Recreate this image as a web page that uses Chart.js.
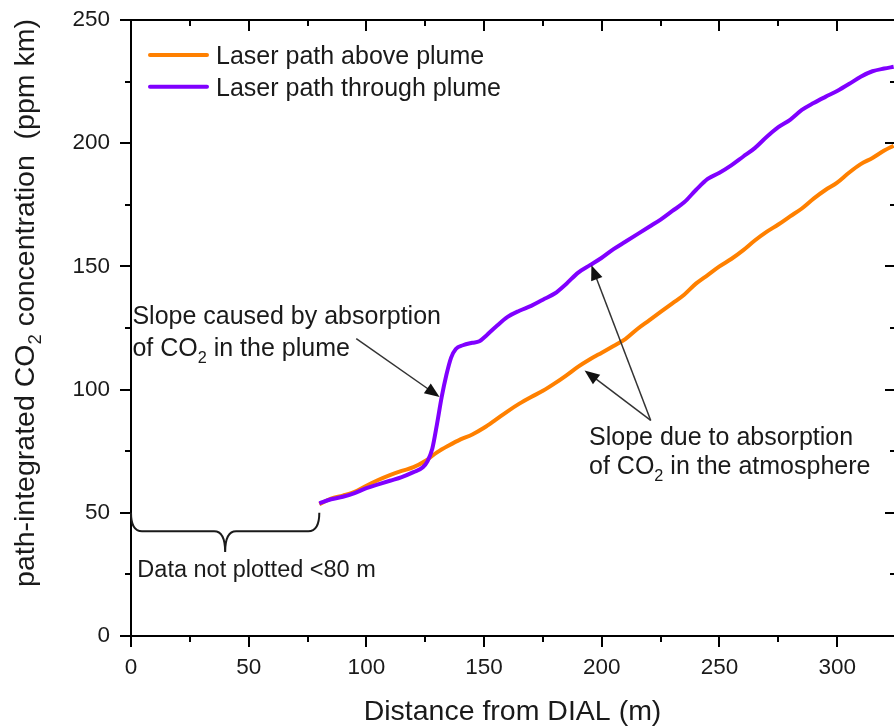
<!DOCTYPE html>
<html>
<head>
<meta charset="utf-8">
<script src="https://cdn.jsdelivr.net/npm/chart.js@4.4.1/dist/chart.umd.min.js"></script>
<style>
  html, body { margin: 0; padding: 0; background: #fff; overflow: hidden; }
  #wrap { width: 894px; height: 727px; overflow: hidden; }
</style>
</head>
<body>
<div id="wrap"><canvas id="myChart" width="898" height="727"></canvas></div>
<script>
// distance (m) and path-integrated CO2 (ppm km)
const aboveX = [80, 85, 90, 95, 100, 105, 110, 115, 120, 125, 130, 135, 140, 145, 150, 155, 160, 165, 170, 175,
  180, 185, 190, 195, 200, 205, 210, 215, 220, 225, 230, 235, 240, 245, 250, 255, 260, 265, 270, 275,
  280, 285, 290, 295, 300, 305, 310, 315, 320, 324];
const aboveY = [53.5, 55.8, 57, 58.5, 61, 63.3, 65.3, 67, 68.5, 71, 74.5, 77.3, 79.8, 81.8, 84.5, 87.8, 91.2, 94.3, 97, 99.5,
  102.5, 105.8, 109.3, 112.3, 115, 117.7, 120.5, 124.5, 128, 131.5, 135, 138.5, 143, 146.5, 150, 153, 156.5, 160.5, 164, 167,
  170.3, 173.5, 177.5, 181, 184, 188, 191.5, 194, 197, 199];

const throughX = [80, 85, 90, 95, 100, 105, 110, 115, 120, 124, 126, 128, 130, 132, 134, 136, 138, 141, 145, 148,
  151, 155, 160, 165, 170, 175, 180, 185, 190, 195, 200, 205, 210, 215, 220, 225, 230, 235, 240, 245,
  250, 255, 260, 265, 270, 275, 280, 285, 290, 295, 300, 305, 310, 315, 320, 324];
const throughY = [53.8, 55.5, 56.5, 58, 60, 61.5, 63, 64.5, 66.5, 68.5, 71, 76, 86, 97, 106, 113, 116.5, 118, 119, 119.6,
  122, 125.5, 129.5, 132, 134, 136.5, 139, 143, 147.5, 150.5, 153.5, 157, 160, 163, 166, 169, 172.5, 176, 181, 185.5,
  188, 191, 194.5, 198, 202.5, 206.5, 209.5, 213.5, 216.3, 218.8, 221.2, 224, 227, 229.2, 230.3, 231];

const seriesNames = ['Laser path above plume', 'Laser path through plume'];
const seriesColors = ['#ff8000', '#8000ff'];

const xTickLabels = [0, 50, 100, 150, 200, 250, 300];
const yTickLabels = [0, 50, 100, 150, 200, 250];

const FONT = "'Liberation Sans', Arial, sans-serif";

// annotation anchors in data units
const arrows = [
  { from: [95.7, 120.7], to: [131.1, 97.0] },
  { from: [220.8, 87.5], to: [195.6, 150.5] },
  { from: [220.8, 87.5], to: [192.7, 107.8] }
];
const notes = [
  { at: [0.6, 126.5], parts: [['Slope caused by absorption', 0]] },
  { at: [0.6, 113.5], parts: [['of CO', 0], ['2', 1], [' in the plume', 0]] },
  { at: [194.6, 77.4], parts: [['Slope due to absorption', 0]] },
  { at: [194.6, 65.8], parts: [['of CO', 0], ['2', 1], [' in the atmosphere', 0]] }
];
const brace = { x0: 0, x1: 80, yTop: 50, yBar: 42.5, yTip: 34.1 };
const braceNote = { at: [2.7, 23.8], text: 'Data not plotted <80 m' };

function partsWidth(ctx, parts, size) {
  let w = 0;
  parts.forEach(p => {
    ctx.font = (p[1] ? size * 0.65 : size) + 'px ' + FONT;
    w += ctx.measureText(p[0]).width;
  });
  return w;
}

function drawParts(ctx, parts, x, y, size) {
  ctx.textAlign = 'left';
  ctx.textBaseline = 'alphabetic';
  parts.forEach(p => {
    const s = p[1] ? size * 0.65 : size;
    ctx.font = s + 'px ' + FONT;
    ctx.fillText(p[0], x, p[1] ? y + size * 0.27 : y);
    x += ctx.measureText(p[0]).width;
  });
}

function arrowHead(ctx, x1, y1, x2, y2) {
  const a = Math.atan2(y2 - y1, x2 - x1);
  const len = 15, hw = 6;
  ctx.beginPath();
  ctx.moveTo(x2, y2);
  ctx.lineTo(x2 - len * Math.cos(a) + hw * Math.sin(a), y2 - len * Math.sin(a) - hw * Math.cos(a));
  ctx.lineTo(x2 - len * Math.cos(a) - hw * Math.sin(a), y2 - len * Math.sin(a) + hw * Math.cos(a));
  ctx.closePath();
  ctx.fill();
}

const decorations = {
  id: 'decorations',
  afterDraw(chart) {
    const ctx = chart.ctx;
    const xs = chart.scales.x, ys = chart.scales.y;
    const area = chart.chartArea;
    ctx.save();

    // top and right frame
    ctx.strokeStyle = '#000';
    ctx.lineWidth = 2;
    ctx.beginPath();
    ctx.moveTo(area.left - 1, area.top);
    ctx.lineTo(area.right, area.top);
    ctx.lineTo(area.right, area.bottom);
    ctx.stroke();

    // tick marks: outward on left/bottom, inward on top/right
    for (let v = 0; v <= 250; v += 25) {
      const py = Math.round(ys.getPixelForValue(v));
      const len = v % 50 === 0 ? 11 : 6;
      ctx.beginPath();
      ctx.moveTo(area.left, py); ctx.lineTo(area.left - len, py);
      ctx.moveTo(area.right, py); ctx.lineTo(area.right - len, py);
      ctx.stroke();
    }
    for (let v = 0; v <= 325; v += 25) {
      const px = Math.round(xs.getPixelForValue(v));
      const len = v % 50 === 0 ? 11 : 6;
      ctx.beginPath();
      ctx.moveTo(px, area.bottom); ctx.lineTo(px, area.bottom + len);
      ctx.moveTo(px, area.top); ctx.lineTo(px, area.top + len);
      ctx.stroke();
    }

    ctx.fillStyle = '#1a1a1a';

    // legend
    seriesNames.forEach((name, i) => {
      const y = 55 + i * 31.7;
      ctx.strokeStyle = seriesColors[i];
      ctx.lineWidth = 4;
      ctx.lineCap = 'round';
      ctx.beginPath();
      ctx.moveTo(150, y); ctx.lineTo(207, y);
      ctx.stroke();
      ctx.font = '25px ' + FONT;
      ctx.textAlign = 'left';
      ctx.textBaseline = 'alphabetic';
      ctx.fillText(name, 216, y + 9);
    });
    ctx.lineCap = 'butt';

    // axis titles
    ctx.font = '28.5px ' + FONT;
    ctx.textAlign = 'center';
    ctx.textBaseline = 'alphabetic';
    ctx.fillText('Distance from DIAL (m)', (area.left + area.right) / 2 - 1, 720);

    const yTitle = [['path-integrated CO', 0], ['2', 1], [' concentration  (ppm km)', 0]];
    const tw = partsWidth(ctx, yTitle, 28.5);
    ctx.save();
    ctx.translate(33.5, 303);
    ctx.rotate(-Math.PI / 2);
    drawParts(ctx, yTitle, -tw / 2, 0, 28.5);
    ctx.restore();

    // annotation texts
    notes.forEach(n => {
      drawParts(ctx, n.parts, xs.getPixelForValue(n.at[0]), ys.getPixelForValue(n.at[1]), 25);
    });
    ctx.font = '23.5px ' + FONT;
    ctx.textAlign = 'left';
    ctx.fillText(braceNote.text, xs.getPixelForValue(braceNote.at[0]), ys.getPixelForValue(braceNote.at[1]));

    // arrows
    ctx.strokeStyle = '#333';
    ctx.fillStyle = '#111';
    ctx.lineWidth = 1.5;
    arrows.forEach(a => {
      const x1 = xs.getPixelForValue(a.from[0]), y1 = ys.getPixelForValue(a.from[1]);
      const x2 = xs.getPixelForValue(a.to[0]), y2 = ys.getPixelForValue(a.to[1]);
      const ang = Math.atan2(y2 - y1, x2 - x1);
      ctx.beginPath();
      ctx.moveTo(x1, y1);
      ctx.lineTo(x2 - 10 * Math.cos(ang), y2 - 10 * Math.sin(ang));
      ctx.stroke();
      arrowHead(ctx, x1, y1, x2, y2);
    });

    // curly brace under the unplotted range
    const bx0 = xs.getPixelForValue(brace.x0), bx1 = xs.getPixelForValue(brace.x1);
    const bxm = (bx0 + bx1) / 2;
    const bt = ys.getPixelForValue(brace.yTop), bb = ys.getPixelForValue(brace.yBar), btip = ys.getPixelForValue(brace.yTip);
    const r = 11;
    ctx.strokeStyle = '#1a1a1a';
    ctx.lineWidth = 2;
    ctx.beginPath();
    ctx.moveTo(bx0, bt);
    ctx.quadraticCurveTo(bx0, bb, bx0 + r, bb);
    ctx.lineTo(bxm - r, bb);
    ctx.quadraticCurveTo(bxm, bb, bxm, btip);
    ctx.quadraticCurveTo(bxm, bb, bxm + r, bb);
    ctx.lineTo(bx1 - r, bb);
    ctx.quadraticCurveTo(bx1, bb, bx1, bt);
    ctx.stroke();

    ctx.restore();
  }
};

function createChart() {
  const ctx = document.getElementById('myChart').getContext('2d');
  new Chart(ctx, {
    type: 'line',
    data: {
      datasets: [{
        label: seriesNames[0],
        data: aboveX.map((x, i) => ({ x: x, y: aboveY[i] })),
        borderColor: seriesColors[0],
        borderWidth: 4,
        pointRadius: 0,
        cubicInterpolationMode: 'monotone',
        fill: false,
        order: 2
      }, {
        label: seriesNames[1],
        data: throughX.map((x, i) => ({ x: x, y: throughY[i] })),
        borderColor: seriesColors[1],
        borderWidth: 4,
        pointRadius: 0,
        cubicInterpolationMode: 'monotone',
        fill: false,
        order: 1
      }]
    },
    options: {
      responsive: false,
      animation: false,
      devicePixelRatio: 1,
      layout: { padding: { top: 20, right: 2, left: 0, bottom: 0 } },
      plugins: {
        legend: { display: false },
        tooltip: { enabled: false }
      },
      scales: {
        x: {
          type: 'linear',
          min: 0,
          max: 325,
          afterFit: s => { s.height = 91; s.paddingLeft = 0; s.paddingRight = 0; },
          grid: { display: false, drawTicks: false },
          border: { display: true, color: '#000', width: 2 },
          ticks: {
            stepSize: 50,
            padding: 18,
            color: '#1a1a1a',
            font: { family: FONT, size: 22.5 },
            callback: v => xTickLabels.includes(v) ? String(v) : ''
          }
        },
        y: {
          min: 0,
          max: 250,
          afterFit: s => { s.width = 131; s.paddingTop = 0; s.paddingBottom = 0; },
          grid: { display: false, drawTicks: false },
          border: { display: true, color: '#000', width: 2 },
          ticks: {
            stepSize: 50,
            padding: 21,
            color: '#1a1a1a',
            font: { family: FONT, size: 22.5 },
            callback: v => yTickLabels.includes(v) ? String(v) : ''
          }
        }
      }
    },
    plugins: [decorations]
  });
}

window.onload = createChart;
</script>
</body>
</html>
